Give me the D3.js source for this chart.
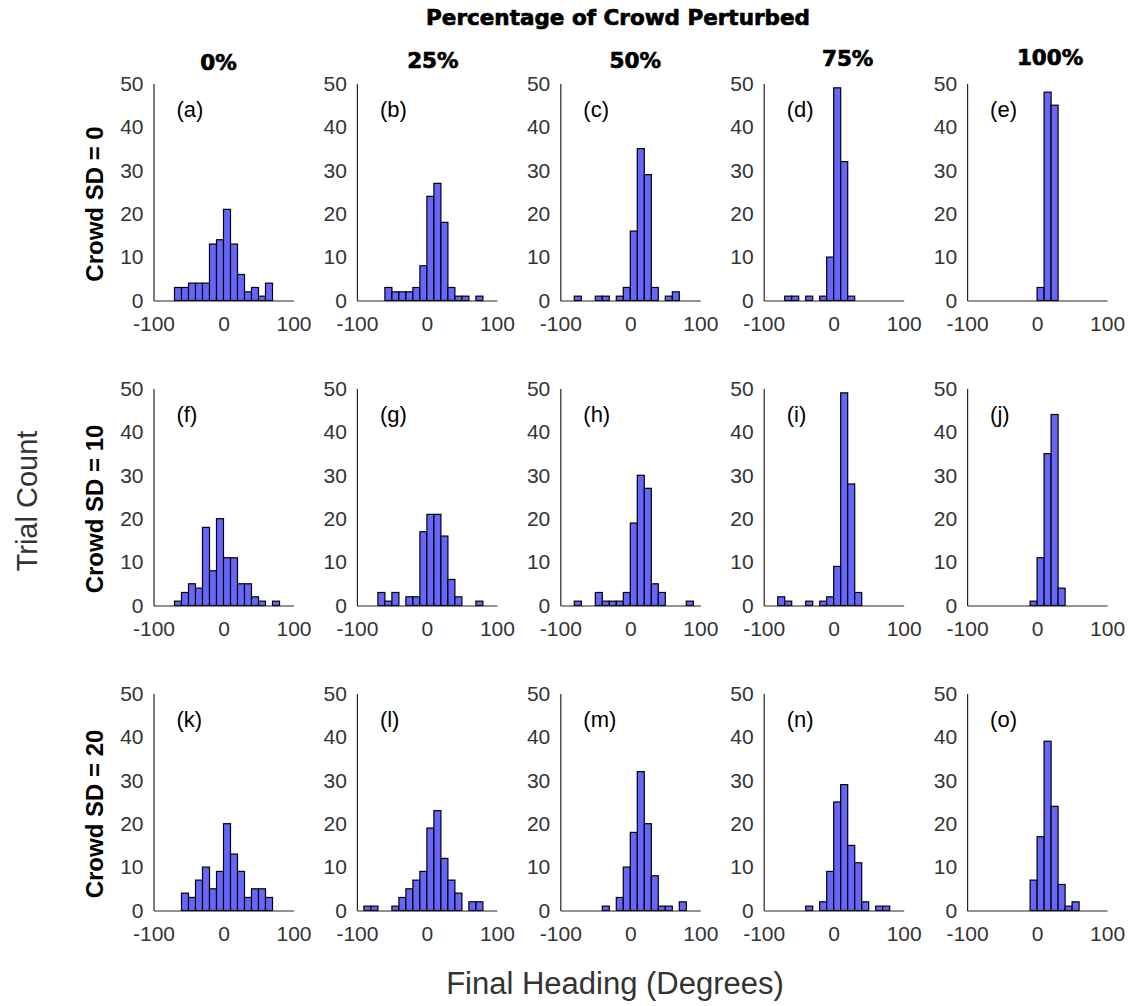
<!DOCTYPE html>
<html>
<head>
<meta charset="utf-8">
<script src="https://cdn.jsdelivr.net/npm/d3@7"></script>
<style>
  html, body { margin: 0; padding: 0; background: #fff; }
  svg { display: block; }
</style>
</head>
<body>
<svg id="chart" width="1131" height="1006"></svg>
<script>
// ---------- data ----------
const columnTitles = ["0%", "25%", "50%", "75%", "100%"];
const rowTitles = ["Crowd SD = 0", "Crowd SD = 10", "Crowd SD = 20"];
const panelLabels = ["(a)","(b)","(c)","(d)","(e)","(f)","(g)","(h)","(i)","(j)","(k)","(l)","(m)","(n)","(o)"];
const xTicks = [-100, 0, 100];
const yTicks = [0, 10, 20, 30, 40, 50];
const binWidth = 10;
// first bin edge (degrees) of each panel
const binStart = [-70, -60, -80, -70, 0,
                  -70, -70, -80, -80, -10,
                  -60, -90, -40, -40, -10];
// counts per bin for each panel
const countsA = [3,3,4,4,4,13,14,21,13,6,2,3,1,4];
const countsB = [3,2,2,2,3,8,24,27,18,3,1,1,0,1];
const countsC = [1,0,0,1,1,0,1,3,16,35,29,3,0,1,2];
const countsD = [1,1,0,1,0,1,10,49,32,1];
const countsE = [3,48,45];
const countsF = [1,3,5,4,18,8,20,11,11,5,5,2,1,0,1];
const countsG = [3,1,3,0,2,2,17,21,21,16,6,2,0,0,1];
const countsH = [1,0,0,3,1,1,1,3,19,30,27,5,3,0,0,0,1];
const countsI = [2,1,0,0,1,0,1,2,9,49,28,3];
const countsJ = [1,11,35,44,4];
const countsK = [4,3,7,10,5,9,20,13,9,3,5,5,3];
const countsL = [1,1,0,0,1,3,5,7,9,19,23,12,7,4,0,2,2];
const countsM = [1,0,3,10,18,32,20,8,1,1,0,2];
const countsN = [1,0,2,9,25,29,15,11,2,0,1,1];
const countsO = [7,17,39,24,6,1,2];
const allCounts = [countsA,countsB,countsC,countsD,countsE,
                   countsF,countsG,countsH,countsI,countsJ,
                   countsK,countsL,countsM,countsN,countsO];

// ---------- layout ----------
const svg = d3.select("#chart");
const colLeft0 = 153.5, colStep = 203.4, plotW = 140;
const rowTop0 = 83.5, rowStep = 305, plotH = 217;
const colTitleDx = [-5, 6, 5, 14, 13];
const colTitleY = [70, 68, 68, 66, 65];
const axisColor = "#262626";
const textColor = "#333333";
const barFill = "#6666fc";

svg.append("text")
  .attr("x", 618).attr("y", 25)
  .attr("text-anchor", "middle")
  .attr("font-family", "DejaVu Sans")
  .attr("font-weight", "bold")
  .attr("font-size", 21.5)
  .attr("fill", "#000")
  .attr("stroke", "#000").attr("stroke-width", 0.7)
  .text("Percentage of Crowd Perturbed");

columnTitles.forEach((t, c) => {
  svg.append("text")
    .attr("x", colLeft0 + c * colStep + plotW / 2 + colTitleDx[c])
    .attr("y", colTitleY[c])
    .attr("text-anchor", "middle")
    .attr("font-family", "DejaVu Sans")
    .attr("font-weight", "bold")
    .attr("font-size", 21.5)
    .attr("fill", "#000")
    .attr("stroke", "#000").attr("stroke-width", 0.7)
    .text(t);
});

rowTitles.forEach((t, r) => {
  const cy = rowTop0 + r * rowStep + plotH / 2 + 12;
  svg.append("text")
    .attr("transform", `translate(103,${cy}) rotate(-90)`)
    .attr("text-anchor", "middle")
    .attr("font-family", "Liberation Sans, Arial, sans-serif")
    .attr("font-weight", "bold")
    .attr("font-size", 24)
    .attr("fill", "#000")
    .text(t);
});

svg.append("text")
  .attr("transform", "translate(37,501) rotate(-90)")
  .attr("text-anchor", "middle")
  .attr("font-family", "Liberation Sans, Arial, sans-serif")
  .attr("font-size", 29)
  .attr("fill", textColor)
  .text("Trial Count");

svg.append("text")
  .attr("x", 615).attr("y", 994)
  .attr("text-anchor", "middle")
  .attr("font-family", "Liberation Sans, Arial, sans-serif")
  .attr("font-size", 31)
  .attr("fill", textColor)
  .text("Final Heading (Degrees)");

allCounts.forEach((counts, i) => {
  const r = Math.floor(i / 5), c = i % 5;
  const left = colLeft0 + c * colStep;
  const top = rowTop0 + r * rowStep;
  const g = svg.append("g").attr("transform", `translate(${left},${top})`);

  const x = d3.scaleLinear().domain([-100, 100]).range([0, plotW]);
  const y = d3.scaleLinear().domain([0, 50]).range([plotH, 0]);

  const bins = counts.map((v, k) => ({
    x0: binStart[i] + k * binWidth,
    x1: binStart[i] + (k + 1) * binWidth,
    v: v
  }));

  g.selectAll("rect.bar").data(bins).join("rect")
    .attr("class", "bar")
    .attr("x", d => x(d.x0))
    .attr("width", d => x(d.x1) - x(d.x0))
    .attr("y", d => y(d.v))
    .attr("height", d => y(0) - y(d.v))
    .attr("fill", barFill)
    .attr("stroke", "#000")
    .attr("stroke-width", 1.2);

  // axes
  const xAxis = g.append("g").attr("transform", `translate(0,${plotH})`)
    .call(d3.axisBottom(x).tickValues(xTicks).tickSize(0).tickPadding(16).tickFormat(d3.format("d")));
  const yAxis = g.append("g")
    .call(d3.axisLeft(y).tickValues(yTicks).tickSize(0).tickPadding(10));
  [xAxis, yAxis].forEach(ax => {
    ax.select(".domain").attr("stroke", axisColor).attr("stroke-width", 1.2);
    ax.selectAll("text")
      .attr("font-family", "Liberation Sans, Arial, sans-serif")
      .attr("font-size", 21)
      .attr("fill", textColor);
  });
  xAxis.selectAll("text").text(d => d < 0 ? "-" + Math.abs(d) : d);

  g.append("text")
    .attr("x", 23).attr("y", 33)
    .attr("font-family", "Liberation Sans, Arial, sans-serif")
    .attr("font-size", 22)
    .attr("fill", "#000")
    .text(panelLabels[i]);
});
</script>
</body>
</html>
